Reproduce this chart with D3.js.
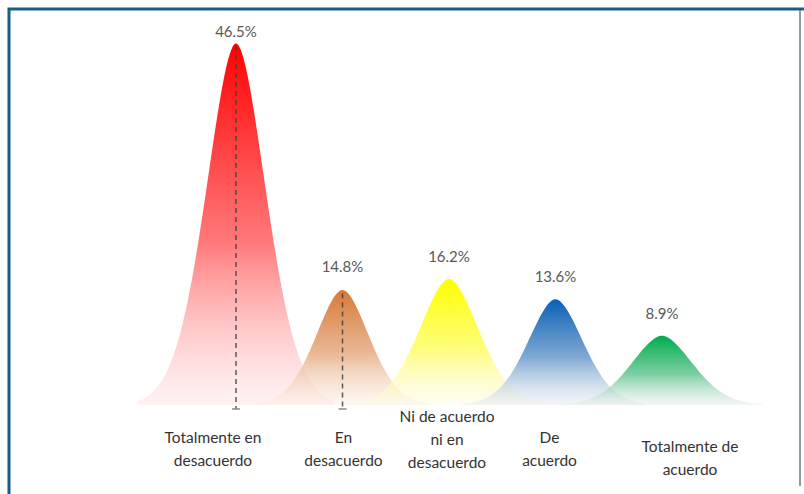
<!DOCTYPE html>
<meta charset="utf-8">
<head>
  <title>Grado de acuerdo</title>
  <style>
    body { margin: 0; background: #fff; }
    svg { display: block; background: #fff; }
    .value { font: 15px Lato, "Open Sans", sans-serif; fill: #595959; text-anchor: middle; }
    .cat { font: 15.5px Lato, "Open Sans", sans-serif; fill: #333; text-anchor: middle; }
  </style>
</head>
<body>
<script src="https://cdnjs.cloudflare.com/ajax/libs/d3/7.8.5/d3.min.js"></script>
<script>

// the data
var categories = ["Totalmente en desacuerdo", "En desacuerdo", "Ni de acuerdo ni en desacuerdo", "De acuerdo", "Totalmente de acuerdo"];
var values = [46.5, 14.8, 16.2, 13.6, 8.9];
var valueLabels = ["46.5%", "14.8%", "16.2%", "13.6%", "8.9%"];
var tickLines = [["Totalmente en", "desacuerdo"], ["En", "desacuerdo"], ["Ni de acuerdo", "ni en", "desacuerdo"], ["De", "acuerdo"], ["Totalmente de", "acuerdo"]];

// styling for each peak
var topColors = ["#ff0000", "#d67a38", "#ffff00", "#0b5fb6", "#00ac4e"];
var baseColors = ["#ffe4e6", "#fbeee4", "#fffbe6", "#e6ebee", "#e6ece8"];
var spread = [29, 26, 29, 27, 30];      // width of each bell, px
var tickShift = [-23, 1, -2, -6, 28];   // label nudges under each peak
var dashed = [true, true, false, false, false];

var width = 804, height = 494;

var svg = d3.select("body").append("svg")
    .attr("width", width)
    .attr("height", height);

// frame
var defs = svg.append("defs");
var shadow = defs.append("filter").attr("id", "blur").attr("x", "-5%").attr("y", "-50%").attr("width", "110%").attr("height", "200%");
shadow.append("feGaussianBlur").attr("stdDeviation", 1.6);

svg.append("line").attr("x1", 16).attr("x2", 800).attr("y1", 486).attr("y2", 486)
    .attr("stroke", "#9a9a9a").attr("stroke-width", 3).attr("filter", "url(#blur)");
svg.append("line").attr("x1", 800).attr("x2", 800).attr("y1", 10).attr("y2", 486)
    .attr("stroke", "#8f9ba3").attr("stroke-width", 2);
svg.append("path")
    .attr("d", "M9,494 V9 H804")
    .attr("fill", "none")
    .attr("stroke", "#1c5d86")
    .attr("stroke-width", 3);

// scales
var x = d3.scalePoint()
    .domain(categories)
    .range([236, 662]);
var y = d3.scaleLinear()
    .domain([0, 46.5])
    .range([405, 42]);

// gradients
categories.forEach(function(c, i) {
  var g = defs.append("linearGradient")
      .attr("id", "grad" + i)
      .attr("x1", 0).attr("y1", 0).attr("x2", 0).attr("y2", 1);
  g.append("stop").attr("offset", "0%").attr("stop-color", topColors[i]);
  g.append("stop").attr("offset", "55%").attr("stop-color", d3.interpolateRgb(topColors[i], baseColors[i])(0.5)).attr("stop-opacity", 0.95);
  g.append("stop").attr("offset", "100%").attr("stop-color", baseColors[i]).attr("stop-opacity", 0.45);
});

var area = d3.area()
    .curve(d3.curveBasis)
    .x(function(d) { return d[0]; })
    .y0(y(0))
    .y1(function(d) { return d[1]; });

function bell(i) {
  var cx = x(categories[i]), s = spread[i], pts = [];
  for (var t = -3.4 * s; t <= 3.4 * s + 0.01; t += s / 8) {
    pts.push([cx + t, y(values[i] * Math.exp(-0.5 * Math.pow(Math.abs(t) / s, 1.8)))]);
  }
  return pts;
}

var peaks = svg.append("g");
categories.forEach(function(c, i) {
  peaks.append("path")
      .attr("d", area(bell(i)))
      .attr("fill", "url(#grad" + i + ")");
});

// dashed drop lines
categories.forEach(function(c, i) {
  if (!dashed[i]) return;
  svg.append("line")
      .attr("x1", x(c)).attr("x2", x(c))
      .attr("y1", y(values[i]) + 4).attr("y2", y(0) + 4)
      .attr("stroke", "#404040")
      .attr("stroke-opacity", 0.85)
      .attr("stroke-width", 1.5)
      .attr("stroke-dasharray", "5,4");
  svg.append("line")
      .attr("x1", x(c) - 4).attr("x2", x(c) + 4)
      .attr("y1", y(0) + 4).attr("y2", y(0) + 4)
      .attr("stroke", "#8a8a8a")
      .attr("stroke-width", 1.5);
});

// value labels
svg.selectAll(".value")
    .data(categories)
    .enter().append("text")
    .attr("class", "value")
    .attr("x", function(d) { return x(d); })
    .attr("y", function(d, i) { return Math.max(y(values[i]) - 17, 37); })
    .text(function(d, i) { return valueLabels[i]; });

// category labels
var cats = svg.selectAll(".cat")
    .data(categories)
    .enter().append("text")
    .attr("class", "cat")
    .attr("transform", function(d, i) {
      var top = 437 + (3 - tickLines[i].length) * 6 - (tickLines[i].length == 3 ? 15 : 0);
      if (i == 4) top = 452;
      return "translate(" + (x(d) + tickShift[i]) + "," + top + ")";
    });
cats.selectAll("tspan")
    .data(function(d, i) { return tickLines[i]; })
    .enter().append("tspan")
    .attr("x", 0)
    .attr("dy", function(d, j) { return j == 0 ? 0 : 23; })
    .text(function(d) { return d; });

</script>
</body>
